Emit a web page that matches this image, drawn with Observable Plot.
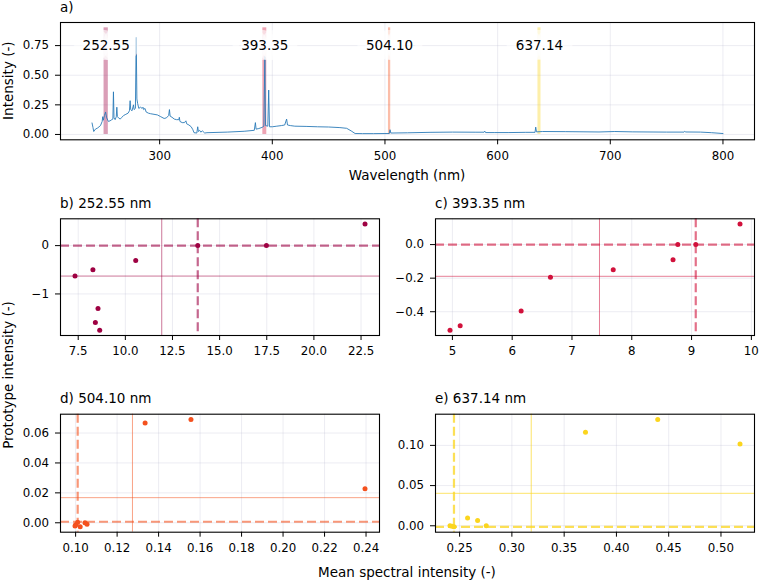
<!DOCTYPE html>
<html><head><meta charset="utf-8">
<script src="https://cdn.jsdelivr.net/npm/d3@7"></script>
<script src="https://cdn.jsdelivr.net/npm/@observablehq/plot@0.6"></script>
<style>
html,body{margin:0;padding:0;background:#fff;}
#wrap{position:relative;width:759px;height:581px;overflow:hidden;font-family:"DejaVu Sans";background:#fff;}
#wrap svg{position:absolute;left:0;top:0;}
</style></head><body><div id="wrap"></div>
<script>
// ---- spectrum (panel a) ----
const wavelength = [240.0,240.8,241.5,243,245,247.5,249.0,249.5,250.0,251.0,252.0,253.0,254.5,256,257.5,258.5,259.0,259.5,260.5,261.5,262.0,262.5,263.5,265,266.5,268,270,272,273.2,273.8,274.3,275.5,276.8,277.3,278.5,279.2,279.8,280.5,281.5,283,284.5,285.2,285.8,287,288,290,292,295,298,301,304,306,308,308.7,309.3,311,313,315,317,317.5,318,320,322,323.3,324,326,328,329.5,330.5,333,333.8,334.4,335.5,336.5,338,340,342,360,375,384,385.0,385.6,388,391,392.5,393.4,394.0,396.0,396.8,397.5,400,404,408,411,412.7,413.5,416,420,430,440,450,460,466,470,473.5,480,490,500,503.8,504.5,505.2,520,540,560,580,588.0,588.6,589.3,597.5,610,625,633.2,633.8,634.5,640,660,690,704,720,750,765.5,766,767,780,790,800];
const intensity = [0.097,0.060,0.025,0.045,0.055,0.075,0.11,0.15,0.12,0.16,0.19,0.14,0.11,0.115,0.125,0.13,0.36,0.14,0.125,0.15,0.23,0.15,0.14,0.13,0.145,0.16,0.17,0.18,0.20,0.285,0.21,0.20,0.25,0.21,0.22,0.82,0.30,0.26,0.22,0.23,0.22,0.23,0.21,0.22,0.19,0.18,0.175,0.17,0.165,0.15,0.135,0.14,0.16,0.21,0.155,0.145,0.13,0.125,0.125,0.145,0.11,0.10,0.10,0.115,0.09,0.08,0.065,0.04,0.015,0.012,0.065,0.025,0.035,0.02,0.03,0.012,0.015,0.020,0.027,0.035,0.10,0.045,0.05,0.06,0.07,0.66,0.075,0.07,0.375,0.065,0.065,0.07,0.075,0.08,0.13,0.08,0.075,0.07,0.068,0.065,0.063,0.058,0.052,0.03,0.008,0.007,0.007,0.008,0.008,0.04,0.012,0.014,0.018,0.020,0.019,0.019,0.028,0.016,0.016,0.016,0.018,0.018,0.062,0.022,0.025,0.024,0.021,0.025,0.022,0.02,0.02,0.026,0.021,0.02,0.015,0.008];

// ---- selected lines ----
const lineWl = [252.55, 393.35, 504.10, 637.14];
const bandHalf = [1.9, 1.75, 1.0, 1.35];
const bandTop = 0.9;
const lineColors = ["#9e0142", "#d1113b", "#f4511e", "#fbd51e"];
const panelLetters = ["b", "c", "d", "e"];

// ---- scatter panels ----
const bX = [7.33, 8.28, 10.55, 13.84, 17.48, 22.71, 8.55, 8.41, 8.64];
const bY = [-0.63, -0.50, -0.31, 0, 0, 0.445, -1.30, -1.59, -1.75];
const cX = [4.96, 5.13, 6.15, 6.64, 7.69, 8.69, 8.77, 9.07, 9.81];
const cY = [-0.51, -0.483, -0.396, -0.195, -0.150, -0.091, 0, 0, 0.122];
const dX = [0.1335, 0.1556, 0.2395, 0.1000, 0.1010, 0.1022, 0.1045, 0.1055, 0.0997];
const dY = [0.0667, 0.0690, 0.0228, -0.0013, 0.0004, -0.0027, 0.0000, -0.0009, -0.0022];
const eX = [0.3704, 0.4395, 0.5182, 0.2576, 0.2672, 0.2755, 0.2408, 0.2446, 0.2428];
const eY = [0.1163, 0.1321, 0.1017, 0.0096, 0.0067, 0.0000, 0.0000, -0.0013, -0.0005];

const meanX = [11.93, 7.46, 0.1274, 0.3185];
const meanY = [-0.63, -0.189, 0.0168, 0.0404];
const protoX = [13.84, 9.07, 0.1010, 0.2446];
const protoY = [0, 0, 0.0007, -0.0013];

// ---- tick labels ----
const aXTicks = [300, 400, 500, 600, 700, 800];
const aYTicks = [0, 0.25, 0.5, 0.75];
const bXTicks = [7.5, 10, 12.5, 15, 17.5, 20, 22.5];
const bYTicks = [-1, 0];
const cXTicks = [5, 6, 7, 8, 9, 10];
const cYTicks = [-0.4, -0.2, 0];
const dXTicks = [0.10, 0.12, 0.14, 0.16, 0.18, 0.20, 0.22, 0.24];
const dYTicks = [0, 0.02, 0.04, 0.06];
const eXTicks = [0.25, 0.30, 0.35, 0.40, 0.45, 0.50];
const eYTicks = [0, 0.05, 0.10];

// ---- layout (page pixels of each axes frame) ----
const W = 759, H = 581;
const frames = {
  a: [60, 22, 754, 139.3],
  b: [60, 218.3, 379, 335],
  c: [435, 218.3, 754, 335],
  d: [60, 413.7, 379, 531.7],
  e: [435, 413.7, 754, 531.7]
};
const pad = ([lo, hi]) => [lo - 0.05 * (hi - lo), hi + 0.05 * (hi - lo)];
const gridStyle = {stroke: "#b8b8d0", strokeOpacity: 0.35, strokeWidth: 0.8};

function panel({frame, xDomain, yDomain, xTicks, yTicks, xFmt, yFmt, marks}) {
  const [L, T, R, B] = frame;
  return Plot.plot({
    width: W, height: H,
    marginLeft: L, marginTop: T, marginRight: W - R, marginBottom: H - B,
    x: {domain: xDomain}, y: {domain: yDomain},
    style: {background: "transparent", overflow: "visible", fontFamily: "DejaVu Sans", fontSize: "11.8px", color: "#000"},
    marks: [
      Plot.gridX({ticks: xTicks, ...gridStyle}),
      Plot.gridY({ticks: yTicks, ...gridStyle}),
      ...marks,
      Plot.frame({stroke: "#000", strokeWidth: 1.1}),
      Plot.axisX({ticks: xTicks, tickFormat: xFmt, tickSize: 5, tickPadding: 6.5, label: null}),
      Plot.axisY({ticks: yTicks, tickFormat: yFmt, tickSize: 5, tickPadding: 6.5, label: null})
    ]
  });
}

const wrap = document.getElementById("wrap");

// panel a
const spectrum = wavelength.map((w, i) => ({w, v: intensity[i]}));
const bands = lineWl.map((wl, i) => ({wl, hw: bandHalf[i], color: lineColors[i], label: wl.toFixed(2)}));
wrap.appendChild(panel({
  frame: frames.a,
  xDomain: pad(d3.extent(wavelength)),
  yDomain: pad([0, bandTop]),
  xTicks: aXTicks, yTicks: aYTicks, xFmt: d3.format("d"), yFmt: d3.format(".2f"),
  marks: [
    Plot.rect(bands, {x1: d => d.wl - d.hw, x2: d => d.wl + d.hw, y1: () => 0, y2: () => bandTop, fill: d => d.color, fillOpacity: 0.38}),
    Plot.line(spectrum, {x: "w", y: "v", stroke: "#2a7ab8", strokeWidth: 0.9}),
    Plot.text(bands, {x: "wl", text: "label", frameAnchor: "top", dy: 22.7, lineAnchor: "middle",
      fill: "#000", stroke: "white", strokeWidth: 20, strokeOpacity: 0.65, strokeLinejoin: "round", fontSize: 13.5})
  ]
}));

// scatter panels
const scat = [
  {key: "b", xs: bX, ys: bY, xt: bXTicks, yt: bYTicks, xf: d3.format(".1f"), yf: d3.format("d")},
  {key: "c", xs: cX, ys: cY, xt: cXTicks, yt: cYTicks, xf: d3.format("d"), yf: d3.format(".1f")},
  {key: "d", xs: dX, ys: dY, xt: dXTicks, yt: dYTicks, xf: d3.format(".2f"), yf: d3.format(".2f")},
  {key: "e", xs: eX, ys: eY, xt: eXTicks, yt: eYTicks, xf: d3.format(".2f"), yf: d3.format(".2f")}
];
scat.forEach((p, i) => {
  const col = lineColors[i];
  const op = i === 3 ? 0.75 : 0.6;
  const pts = p.xs.map((x, j) => ({x, y: p.ys[j]}));
  wrap.appendChild(panel({
    frame: frames[p.key],
    xDomain: pad(d3.extent(p.xs)),
    yDomain: pad(d3.extent(p.ys)),
    xTicks: p.xt, yTicks: p.yt, xFmt: p.xf, yFmt: p.yf,
    marks: [
      Plot.ruleX([meanX[i]], {stroke: col, strokeOpacity: op, strokeWidth: 0.9}),
      Plot.ruleY([meanY[i]], {stroke: col, strokeOpacity: op, strokeWidth: 0.9}),
      Plot.ruleX([protoX[i]], {stroke: col, strokeOpacity: op, strokeWidth: 2.2, strokeDasharray: "9,4"}),
      Plot.ruleY([protoY[i]], {stroke: col, strokeOpacity: op, strokeWidth: 2.2, strokeDasharray: "9,4"}),
      Plot.dot(pts, {x: "x", y: "y", r: 2.5, fill: col, stroke: "none"})
    ]
  }));
});

// overlay text: titles and axis labels
const ov = d3.select(wrap).append("svg").attr("width", W).attr("height", H)
  .style("font-family", "DejaVu Sans").style("font-size", "13.5px").style("overflow", "visible");
ov.append("text").attr("x", 60).attr("y", 12).text("a)");
lineWl.forEach((wl, i) => {
  const f = frames[panelLetters[i]];
  ov.append("text").attr("x", f[0]).attr("y", f[1] - 10.5).text(`${panelLetters[i]}) ${wl.toFixed(2)} nm`);
});
ov.append("text").attr("text-anchor", "middle").attr("x", (frames.a[0] + frames.a[2]) / 2).attr("y", 180).text("Wavelength (nm)");
ov.append("text").attr("text-anchor", "middle").attr("transform", `translate(13,${(frames.a[1] + frames.a[3]) / 2}) rotate(-90)`).text("Intensity (-)");
ov.append("text").attr("text-anchor", "middle").attr("transform", `translate(12.5,${(frames.b[1] + frames.d[3]) / 2}) rotate(-90)`).text("Prototype intensity (-)");
ov.append("text").attr("text-anchor", "middle").attr("x", (frames.d[0] + frames.e[2]) / 2).attr("y", 577).text("Mean spectral intensity (-)");
</script></body></html>
